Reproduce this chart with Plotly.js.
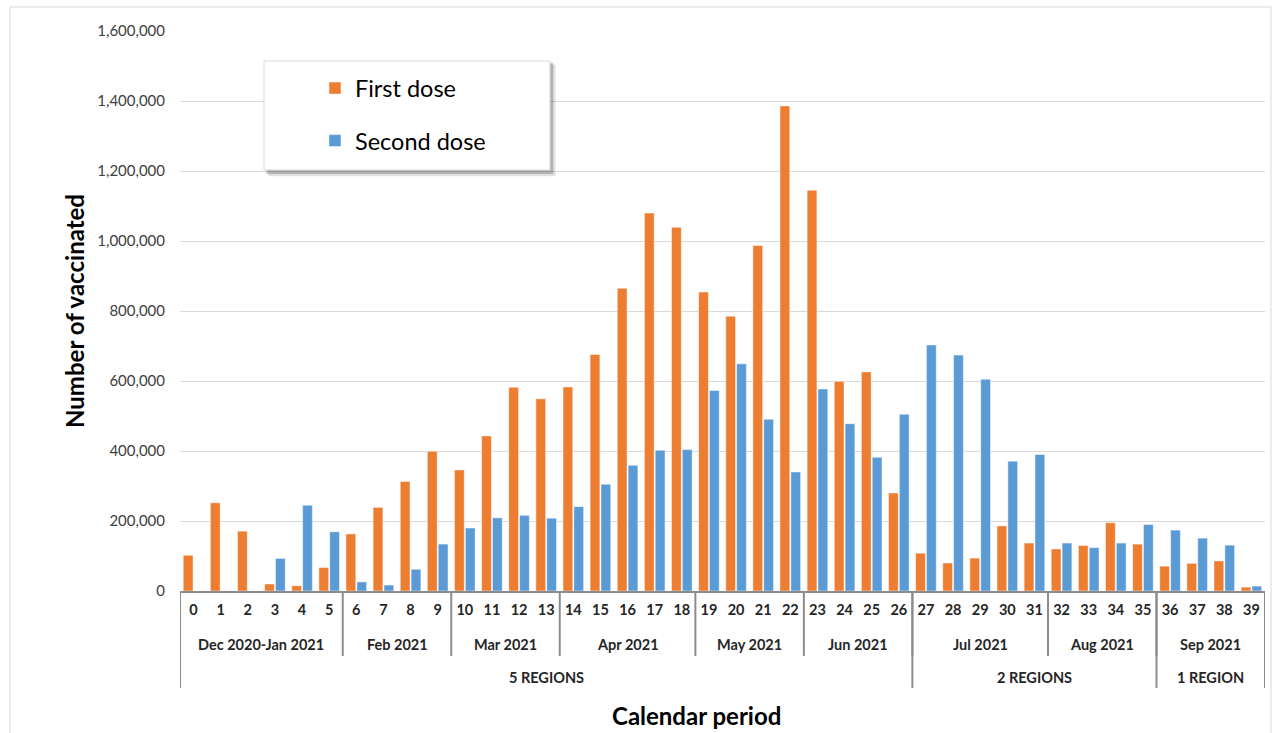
<!DOCTYPE html>
<html>
<head>
<meta charset="utf-8">
<script src="https://cdn.plot.ly/plotly-3.0.1.min.js"></script>
<style>
html,body{margin:0;padding:0;background:#fff;}
#chart{width:1273px;height:733px;}
</style>
</head>
<body>
<div id="chart"></div>
<script>
// ---- data ----
var weeks = [0,1,2,3,4,5,6,7,8,9,10,11,12,13,14,15,16,17,18,19,20,21,22,23,24,25,26,27,28,29,30,31,32,33,34,35,36,37,38,39];
var weekLabels = ["0","1","2","3","4","5","6","7","8","9","10","11","12","13","14","15","16","17","18","19","20","21","22","23","24","25","26","27","28","29","30","31","32","33","34","35","36","37","38","39"];
var firstDose = [102000,252000,171000,20000,15000,67000,163000,239000,313000,399000,346000,443000,582000,549000,583000,676000,865000,1080000,1039000,854000,785000,987000,1386000,1145000,599000,626000,280000,108000,80000,94000,186000,137000,120000,130000,195000,134000,71000,79000,86000,11000];
var secondDose = [0,0,0,93000,245000,169000,26000,17000,62000,134000,180000,209000,216000,208000,241000,305000,359000,402000,404000,573000,649000,491000,340000,577000,478000,382000,505000,703000,674000,605000,371000,390000,137000,124000,137000,190000,174000,151000,131000,14000];
var monthLabels = ["Dec 2020-Jan 2021","Feb 2021","Mar 2021","Apr 2021","May 2021","Jun 2021","Jul 2021","Aug 2021","Sep 2021"];
var monthStart = [0,6,10,14,19,23,27,32,36];
var monthEnd = [5,9,13,18,22,26,31,35,39];
var regionLabels = ["5 REGIONS","2 REGIONS","1 REGION"];
var regionStart = [0,27,36];
var regionEnd = [26,35,39];
var seriesNames = ["First dose","Second dose"];
var xTitle = "Calendar period";
var yTitle = "Number of vaccinated";

// ---- style ----
var FONT = "Lato, 'Open Sans', sans-serif";
var lineCol = "#8c8c8c";
var monthRowY = -0.0964, regionRowY = -0.1536;
var monthLineBottom = -0.116, regionLineBottom = -0.173;

var shapes = [];
var annotations = [];

// outer chart border
shapes.push({type:"rect", xref:"paper", yref:"paper", x0:-0.1567, x1:1.0055, y0:-0.30, y1:1.0429,
  line:{color:"#d9d9d9", width:1}, fillcolor:"rgba(0,0,0,0)", layer:"below"});

// month separators and labels
for (var i = 0; i < monthLabels.length; i++) {
  annotations.push({xref:"x", yref:"paper", x:(monthStart[i]+monthEnd[i])/2, y:monthRowY,
    text:"<b>"+monthLabels[i]+"</b>", showarrow:false, xanchor:"center", yanchor:"middle",
    font:{family:FONT, size:14.5, color:"#262626"}});
  if (i < monthLabels.length-1) {
    shapes.push({type:"line", xref:"x", yref:"paper", x0:monthEnd[i]+0.5, x1:monthEnd[i]+0.5,
      y0:0, y1:monthLineBottom, line:{color:lineCol, width:2}});
  }
}
// region separators and labels
for (var j = 0; j < regionLabels.length; j++) {
  annotations.push({xref:"x", yref:"paper", x:(regionStart[j]+regionEnd[j])/2, y:regionRowY,
    text:"<b>"+regionLabels[j]+"</b>", showarrow:false, xanchor:"center", yanchor:"middle",
    font:{family:FONT, size:14.5, color:"#262626"}});
  shapes.push({type:"line", xref:"x", yref:"paper", x0:regionStart[j]-0.5, x1:regionStart[j]-0.5,
    y0:0, y1:regionLineBottom, line:{color:lineCol, width:2}});
}
shapes.push({type:"line", xref:"x", yref:"paper", x0:regionEnd[regionEnd.length-1]+0.5, x1:regionEnd[regionEnd.length-1]+0.5,
  y0:0, y1:regionLineBottom, line:{color:lineCol, width:2}});

// x-axis title (offset left of centre as in the original)
annotations.push({xref:"paper", yref:"paper", x:0.4756, y:-0.2232, text:"<b>"+xTitle+"</b>",
  showarrow:false, xanchor:"center", yanchor:"middle", font:{family:FONT, size:24, color:"#000000"}});

// legend box with shadow
shapes.push({type:"rect", xref:"paper", yref:"paper", x0:0.0774+0.004, x1:0.341+0.005, y0:0.7518-0.011, y1:0.9464-0.006,
  line:{width:0}, fillcolor:"rgba(0,0,0,0.12)", layer:"above"});
shapes.push({type:"rect", xref:"paper", yref:"paper", x0:0.0774+0.002, x1:0.341+0.003, y0:0.7518-0.007, y1:0.9464-0.003,
  line:{width:0}, fillcolor:"rgba(0,0,0,0.2)", layer:"above"});
shapes.push({type:"rect", xref:"paper", yref:"paper", x0:0.0774, x1:0.341, y0:0.7518, y1:0.9464,
  line:{color:"#d9d9d9", width:1}, fillcolor:"#ffffff", layer:"above"});

var traces = [
  {type:"bar", x:weeks, y:firstDose, name:seriesNames[0], legendgroup:"a",
   marker:{color:"#ED7D31", line:{color:"rgba(255,255,255,0.45)", width:1}}, hoverinfo:"x+y+name"},
  {type:"bar", x:weeks, y:secondDose, name:seriesNames[1], legendgroup:"b",
   marker:{color:"#5B9BD5", line:{color:"rgba(255,255,255,0.45)", width:1}}, hoverinfo:"x+y+name"}
];

var layout = {
  width:1273, height:733,
  margin:{l:180, r:8, t:31, b:142},
  paper_bgcolor:"#ffffff", plot_bgcolor:"#ffffff",
  font:{family:FONT, color:"#404040"},
  barmode:"group", bargap:0.2, bargroupgap:0.1,
  showlegend:true,
  legend:{x:0.1244, y:0.937, xanchor:"left", yanchor:"top", bgcolor:"rgba(0,0,0,0)", borderwidth:0,
    font:{family:FONT, size:23.5, color:"#000000"}, tracegroupgap:19, traceorder:"grouped"},
  xaxis:{
    range:[-0.5, 39.5], tickmode:"array", tickvals:weeks, ticktext:weekLabels,
    tickfont:{family:FONT, size:14.5, color:"#262626", weight:"bold"},
    ticks:"", ticklabelstandoff:5, showgrid:false, zeroline:false,
    showline:true, linecolor:lineCol, linewidth:2, fixedrange:true,
    automargin:false
  },
  yaxis:{
    range:[0,1600000], dtick:200000, tickformat:",d",
    tickfont:{family:FONT, size:15, color:"#404040"},
    showgrid:true, gridcolor:"#d9d9d9", gridwidth:1, zeroline:false, showline:false,
    ticks:"", ticklabelstandoff:14, fixedrange:true,
    title:{text:"<b>"+yTitle+"</b>", font:{family:FONT, size:24, color:"#000000"}, standoff:5},
    automargin:false
  },
  shapes:shapes,
  annotations:annotations
};

Plotly.newPlot("chart", traces, layout, {displayModeBar:false, staticPlot:true});
</script>
</body>
</html>
